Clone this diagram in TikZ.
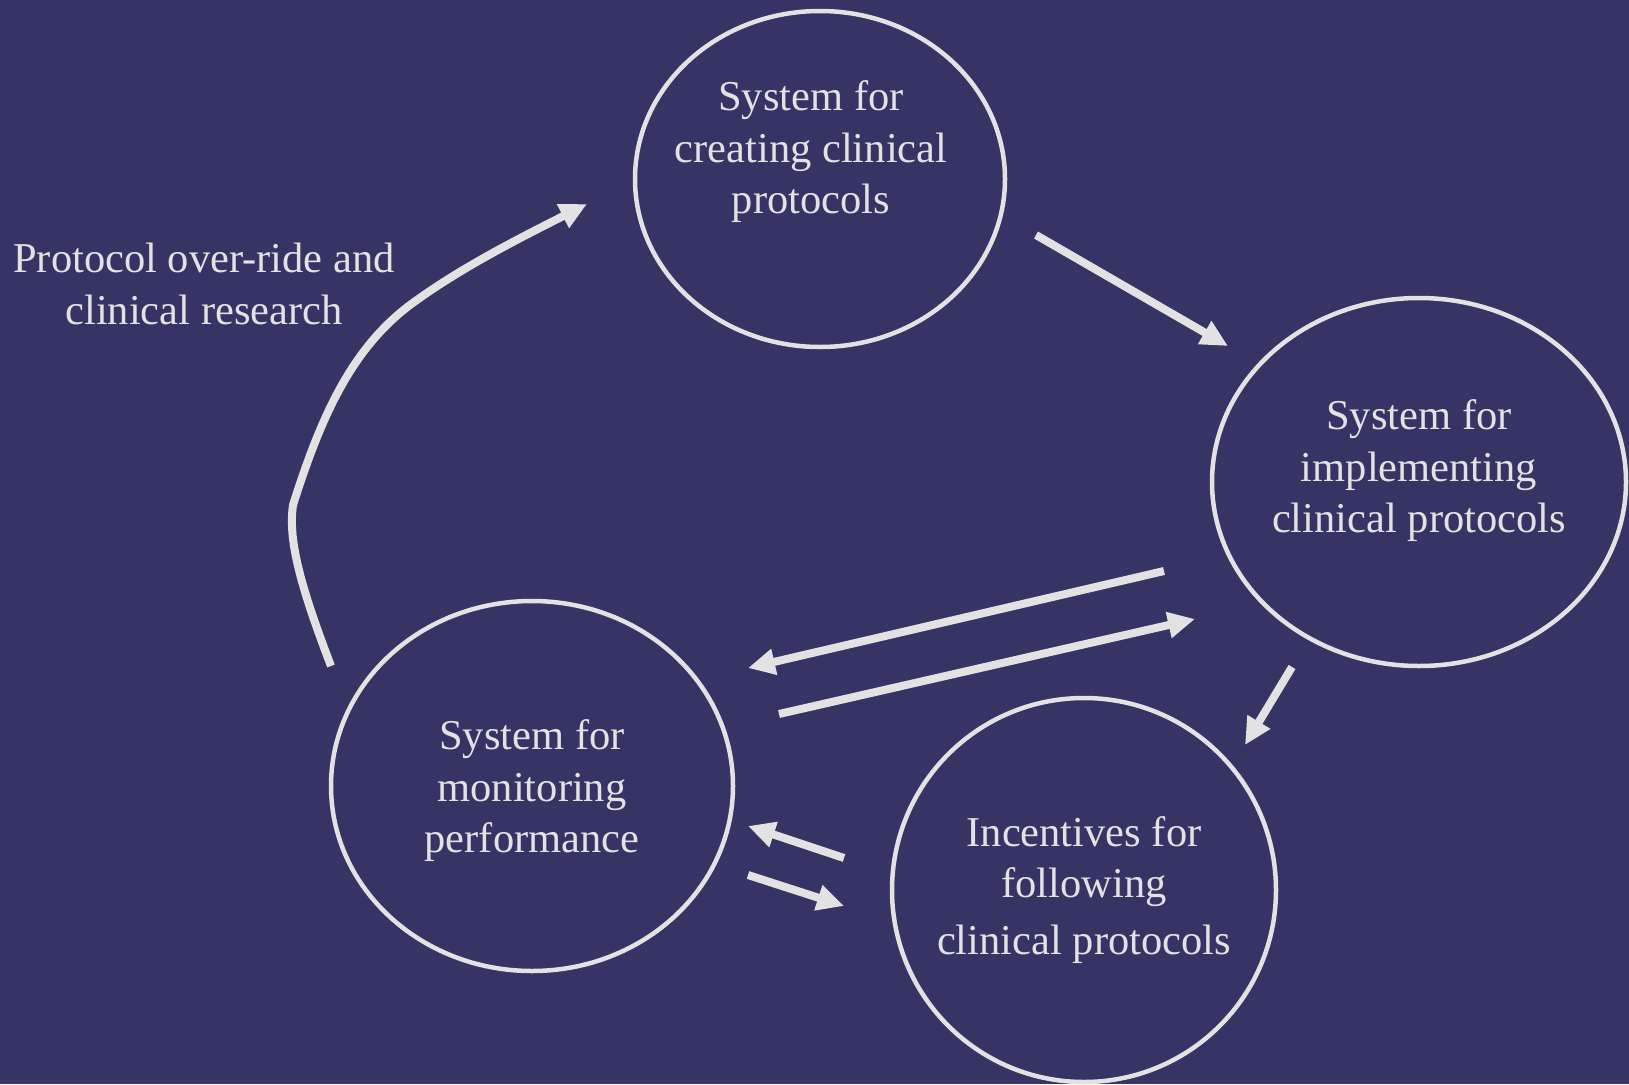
\documentclass[tikz,border=0pt]{standalone}
\usepackage{fontspec}
\setmainfont{Liberation Serif}
\usetikzlibrary{arrows.meta}
\definecolor{bgnavy}{HTML}{353465}
\definecolor{ink}{HTML}{E2E2E2}
\begin{document}
\begin{tikzpicture}[x=1pt,y=-1pt,
  caption/.style={text=ink, align=center, font=\fontsize{42.5}{51.5}\selectfont},
  flow/.style={draw=ink, line width=8pt, -{Triangle[length=27pt,width=25pt]}}]
  % canvas
  \fill[bgnavy] (0,0) rectangle (1629,1084);
  \useasboundingbox (0,0) rectangle (1629,1084);

  % the four systems
  \draw[draw=ink, line width=4.5pt] (820,179) ellipse [x radius=185, y radius=168];
  \draw[draw=ink, line width=4.5pt] (1419,482) ellipse [x radius=207, y radius=184];
  \draw[draw=ink, line width=4.5pt] (532,786) ellipse [x radius=201, y radius=185];
  \draw[draw=ink, line width=4.5pt] (1084,890) ellipse [x radius=192, y radius=192];

  \node[caption] (create) at (811,152) {System for\\creating clinical\\protocols};
  \node[caption] (implement) at (1419,471) {System for\\implementing\\clinical protocols};
  \node[caption] (monitor) at (532,791) {System for\\monitoring\\performance};
  \node[caption] (incent) at (1084,890) {Incentives for\\following\\[5pt]clinical protocols};

  \node[caption] (override) at (204,284) {Protocol over-ride and\\clinical research};

  % connector end points
  \coordinate (c1a) at (1036,235);  \coordinate (c1b) at (1228,346);
  \coordinate (c2a) at (1164,571);  \coordinate (c2b) at (748,668);
  \coordinate (c3a) at (779,714);   \coordinate (c3b) at (1195,619);
  \coordinate (c4a) at (1292,667);  \coordinate (c4b) at (1245,745);
  \coordinate (c5a) at (844,858);   \coordinate (c5b) at (748,826);
  \coordinate (c6a) at (748,875);   \coordinate (c6b) at (844,906);
  \coordinate (c7a) at (331,666);   \coordinate (c7k) at (293,505);
  \coordinate (c7b) at (587,204);

  \draw[flow] (c1a) -- (c1b);
  \draw[flow] (c2a) -- (c2b);
  \draw[flow] (c3a) -- (c3b);
  \draw[flow] (c4a) -- (c4b);
  \draw[flow] (c5a) -- (c5b);
  \draw[flow] (c6a) -- (c6b);
  \draw[flow] (c7a) .. controls (300,585) and (288,540) .. (c7k)
              .. controls (320,420) and (350,350) .. (410,305)
              .. controls (460,268) and (520,238) .. (c7b);
\end{tikzpicture}
\end{document}
